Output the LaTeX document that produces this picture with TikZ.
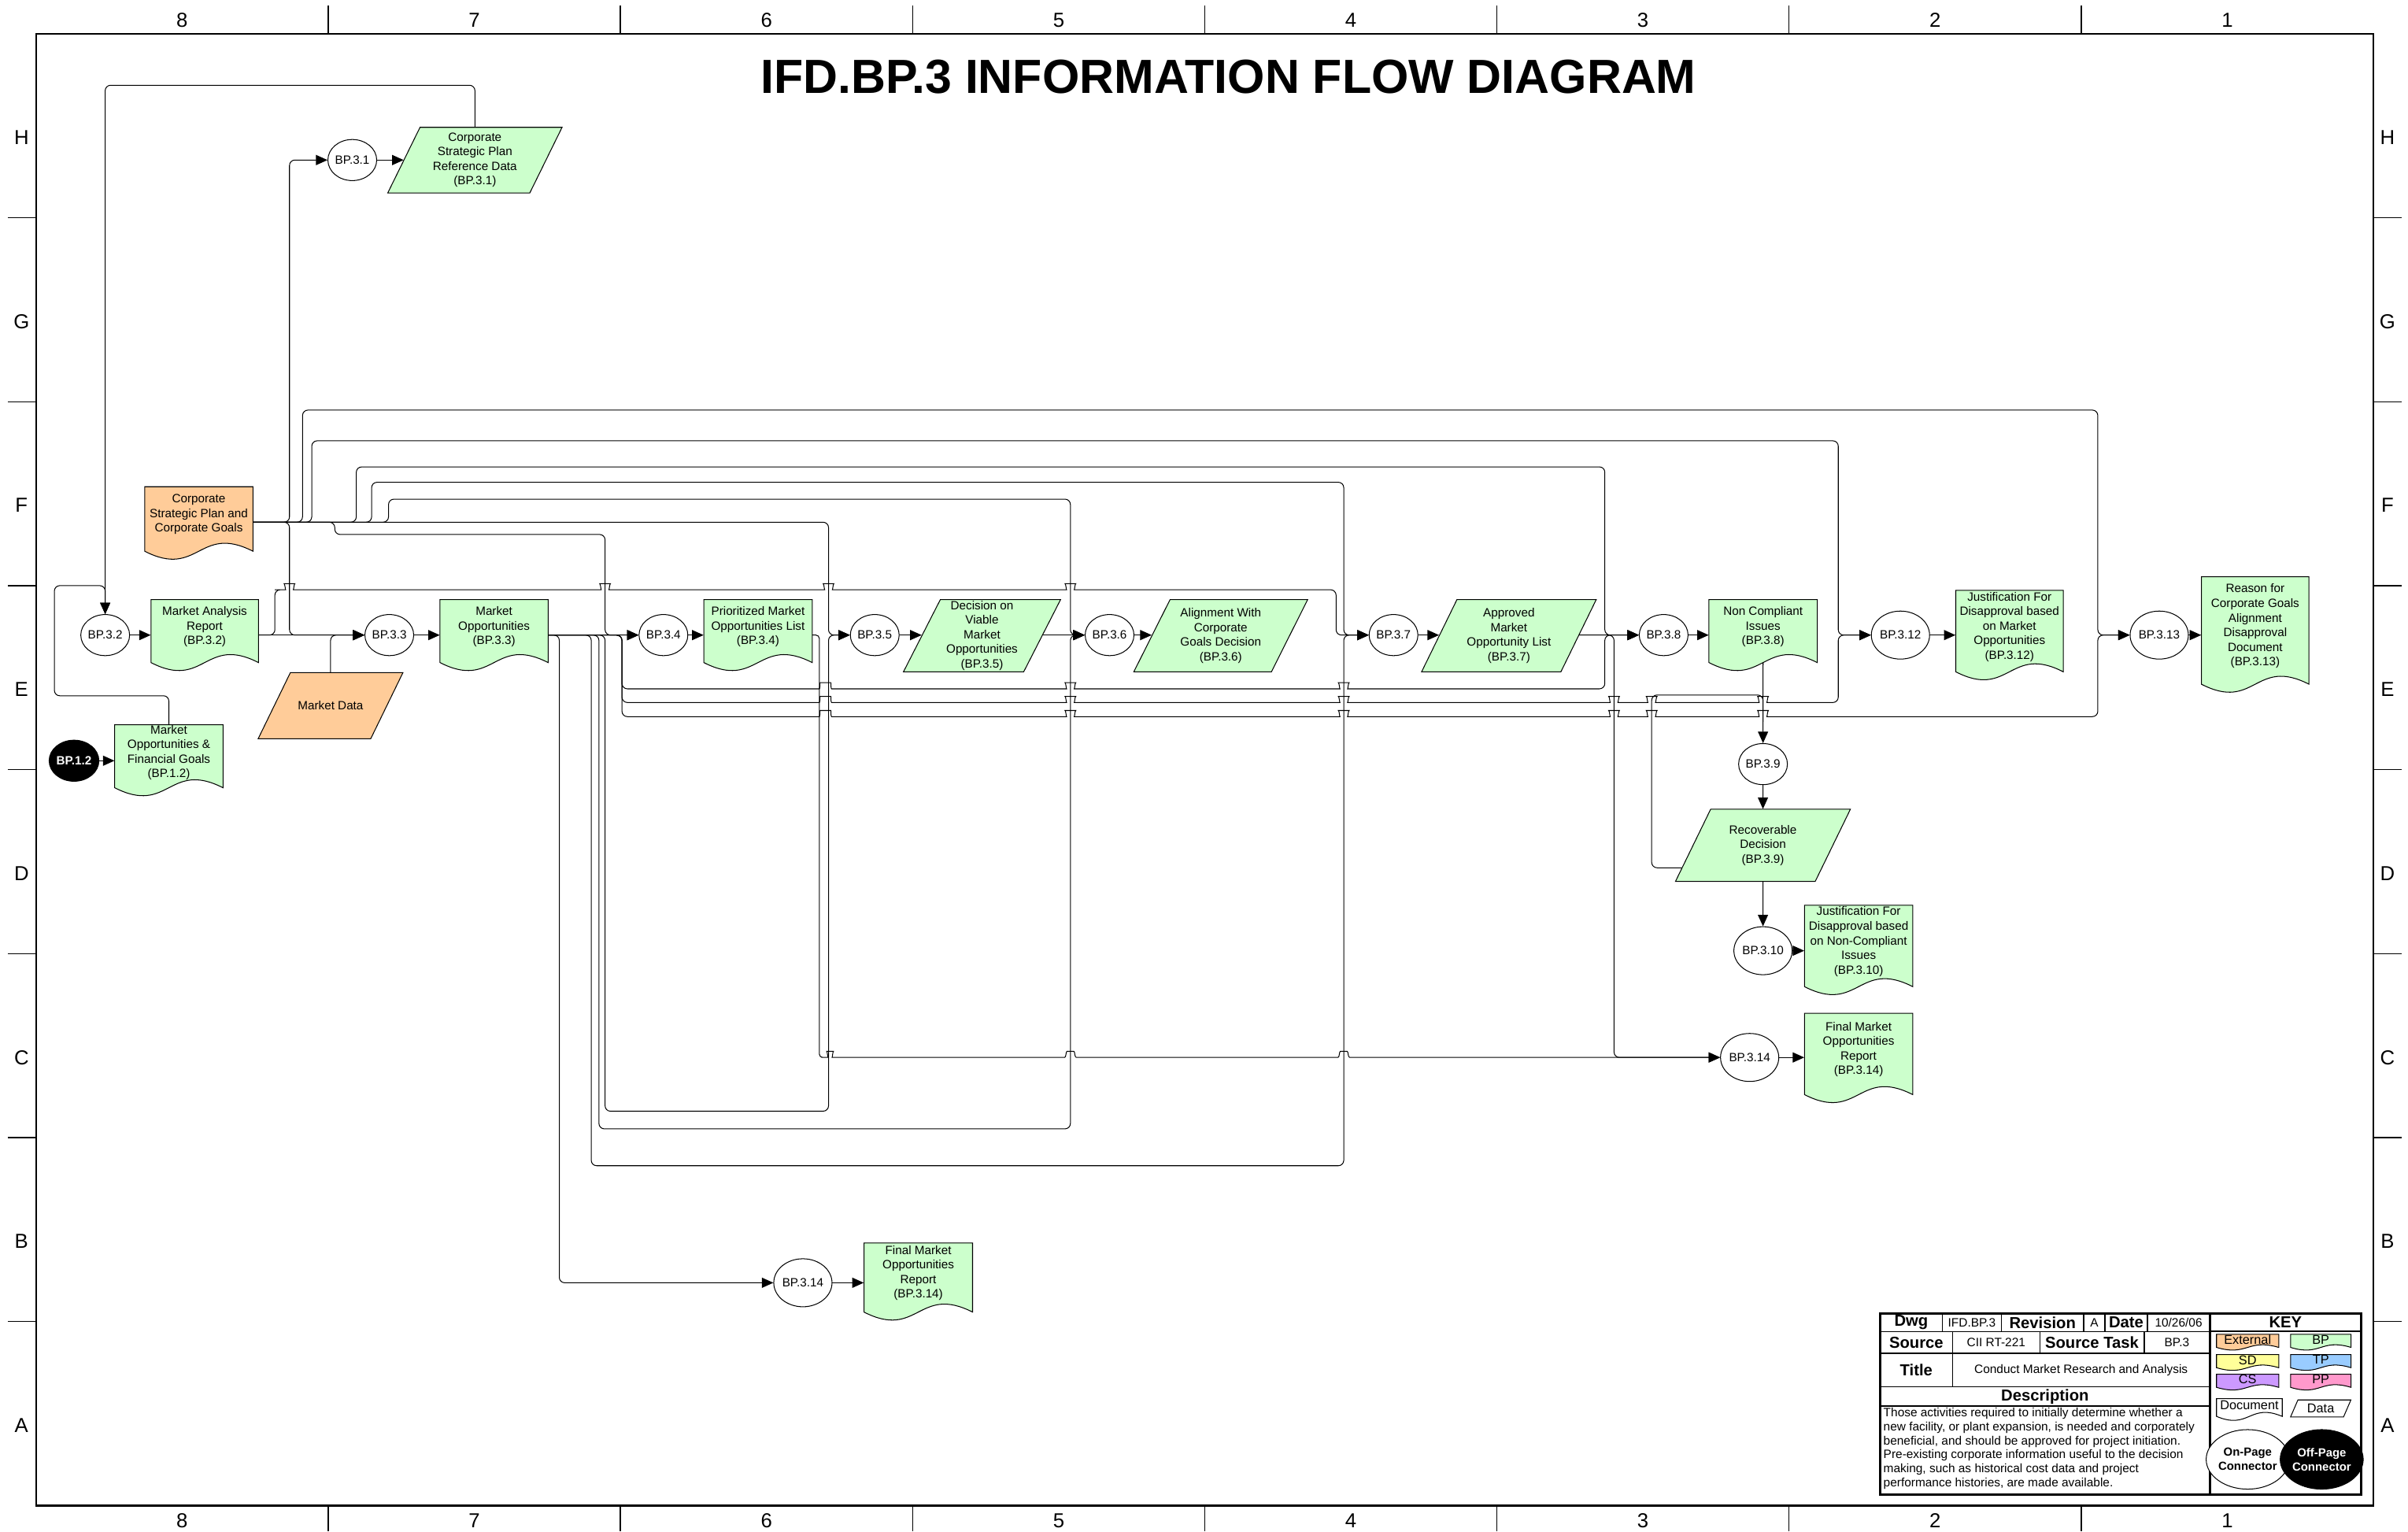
\documentclass[tikz,border=0pt]{standalone}
\usepackage{fontspec}
\setmainfont{Liberation Sans}
\usetikzlibrary{shapes.geometric,arrows.meta,backgrounds}

\definecolor{bpgreen}{HTML}{CCFFCC}
\definecolor{extorange}{HTML}{FFCC99}
\definecolor{sdyellow}{HTML}{FFFF99}
\definecolor{tpblue}{HTML}{99CCFF}
\definecolor{cspurple}{HTML}{CC99FF}
\definecolor{pppink}{HTML}{FF99CC}

\newcommand{\boxfont}{\fontsize{8.9}{10.8}\selectfont}

\tikzset{
  boxtext/.style={font=\boxfont, align=center, inner sep=0pt},
  shapeline/.style={line width=0.6pt},
  flow/.style={line width=0.6pt, rounded corners=4pt},
  flowarrow/.style={flow, -{Triangle[length=8.5pt,width=7.5pt]}},
  onpage/.style={ellipse, draw, line width=0.6pt, fill=white, inner sep=0pt,
    minimum width=1.16cm, minimum height=1.07cm, font=\boxfont},
  onpagewide/.style={onpage, minimum width=1.34cm, minimum height=1.25cm},
  offpage/.style={onpage, fill=black, text=white, font=\boxfont\bfseries},
  framelabel/.style={font=\fontsize{15}{16}\selectfont, inner sep=0pt},
  frametick/.style={line width=0.8pt},
  tblabel/.style={font=\fontsize{11.8}{13}\selectfont\bfseries, inner sep=0pt},
  tbvalue/.style={font=\fontsize{9}{10.3}\selectfont, inner sep=0pt},
  tbline/.style={line width=0.8pt},
}

% document shape: name, left, top, width, side height, fill, wave, text
\newcommand{\docnode}[8]{%
  \filldraw[shapeline, fill=#6] (#2,#3) -- ({#2+#4},#3) -- ({#2+#4},{#3+#5})
    .. controls ({#2+0.5*#4},{#3+#5-#7}) and ({#2+0.5*#4},{#3+#5+#7}) .. (#2,{#3+#5}) -- cycle;
  \node[boxtext, minimum width={#4*0.04cm}, minimum height={(#5-#7/3)*0.04cm}, anchor=north]
    (#1) at ({#2+0.5*#4},#3) {#8};}
% data shape: name, bottom left, top, width, height, slant, fill, text
\newcommand{\datanode}[8]{%
  \filldraw[shapeline, fill=#7] ({#2+#6},#3) -- ({#2+#6+#4},#3) -- ({#2+#4},{#3+#5}) -- (#2,{#3+#5}) -- cycle;
  \node[boxtext, minimum width={#4*0.04cm}, minimum height={#5*0.04cm}]
    (#1) at ({#2+0.5*#6+0.5*#4},{#3+0.5*#5}) {#8};}
% line jump over a crossing vertical line
\newcommand{\hop}[3]{-- ({#1-#3},#2) .. controls ({#1-0.45*#3},#2) and ({#1-0.5*#3},{#2-4}) .. (#1,{#2-4})
  .. controls ({#1+0.5*#3},{#2-4}) and ({#1+0.45*#3},#2) .. ({#1+#3},#2)}

\begin{document}
\begin{tikzpicture}[x=0.04cm, y=-0.04cm]
\useasboundingbox (0,0) rectangle (1568,997);

% drawing frame
\draw[line width=1.2pt] (23.5,22) rectangle (1545.4,980.3);
\draw[frametick] (213.7,3.5) -- (213.7,22);
\draw[frametick] (404.0,3.5) -- (404.0,22);
\draw[frametick] (594.2,3.5) -- (594.2,22);
\draw[frametick] (784.5,3.5) -- (784.5,22);
\draw[frametick] (974.7,3.5) -- (974.7,22);
\draw[frametick] (1164.9,3.5) -- (1164.9,22);
\draw[frametick] (1355.2,3.5) -- (1355.2,22);
\draw[frametick] (213.7,980.3) -- (213.7,997);
\draw[frametick] (404.0,980.3) -- (404.0,997);
\draw[frametick] (594.2,980.3) -- (594.2,997);
\draw[frametick] (784.5,980.3) -- (784.5,997);
\draw[frametick] (974.7,980.3) -- (974.7,997);
\draw[frametick] (1164.9,980.3) -- (1164.9,997);
\draw[frametick] (1355.2,980.3) -- (1355.2,997);
\draw[frametick] (5,141.8) -- (23.5,141.8);
\draw[frametick] (5,261.6) -- (23.5,261.6);
\draw[frametick] (5,381.4) -- (23.5,381.4);
\draw[frametick] (5,501.2) -- (23.5,501.2);
\draw[frametick] (5,621.0) -- (23.5,621.0);
\draw[frametick] (5,740.7) -- (23.5,740.7);
\draw[frametick] (5,860.5) -- (23.5,860.5);
\draw[frametick] (1545.4,141.8) -- (1564,141.8);
\draw[frametick] (1545.4,261.6) -- (1564,261.6);
\draw[frametick] (1545.4,381.4) -- (1564,381.4);
\draw[frametick] (1545.4,501.2) -- (1564,501.2);
\draw[frametick] (1545.4,621.0) -- (1564,621.0);
\draw[frametick] (1545.4,740.7) -- (1564,740.7);
\draw[frametick] (1545.4,860.5) -- (1564,860.5);
\node[framelabel] (top8) at (118.6,13) {8};
\node[framelabel] (top7) at (308.9,13) {7};
\node[framelabel] (top6) at (499.1,13) {6};
\node[framelabel] (top5) at (689.4,13) {5};
\node[framelabel] (top4) at (879.6,13) {4};
\node[framelabel] (top3) at (1069.8,13) {3};
\node[framelabel] (top2) at (1260.1,13) {2};
\node[framelabel] (top1) at (1450.3,13) {1};
\node[framelabel] (bot8) at (118.6,990) {8};
\node[framelabel] (bot7) at (308.9,990) {7};
\node[framelabel] (bot6) at (499.1,990) {6};
\node[framelabel] (bot5) at (689.4,990) {5};
\node[framelabel] (bot4) at (879.6,990) {4};
\node[framelabel] (bot3) at (1069.8,990) {3};
\node[framelabel] (bot2) at (1260.1,990) {2};
\node[framelabel] (bot1) at (1450.3,990) {1};
\node[framelabel] (leftH) at (14,89.5) {H};
\node[framelabel] (leftG) at (14,209.3) {G};
\node[framelabel] (leftF) at (14,329.1) {F};
\node[framelabel] (leftE) at (14,448.9) {E};
\node[framelabel] (leftD) at (14,568.7) {D};
\node[framelabel] (leftC) at (14,688.5) {C};
\node[framelabel] (leftB) at (14,808.3) {B};
\node[framelabel] (leftA) at (14,928.1) {A};
\node[framelabel] (rightH) at (1554.6,89.5) {H};
\node[framelabel] (rightG) at (1554.6,209.3) {G};
\node[framelabel] (rightF) at (1554.6,329.1) {F};
\node[framelabel] (rightE) at (1554.6,448.9) {E};
\node[framelabel] (rightD) at (1554.6,568.7) {D};
\node[framelabel] (rightC) at (1554.6,688.5) {C};
\node[framelabel] (rightB) at (1554.6,808.3) {B};
\node[framelabel] (rightA) at (1554.6,928.1) {A};

\node[font=\fontsize{35.5}{38}\selectfont\bfseries, inner sep=0pt] (title) at (800,50) {IFD.BP.3 INFORMATION FLOW DIAGRAM};

% external inputs
\docnode{ocsp}{94.2}{316.9}{70.5}{42}{extorange}{18}{Corporate\\Strategic Plan and\\Corporate Goals}
\datanode{amd}{168.1}{437.9}{73.3}{43.1}{21}{extorange}{Market Data}

% BP.3 flow
\node[onpage] (c31) at (229.4,104.2) {BP.3.1};
\datanode{a31}{252.5}{82.9}{92.5}{42.7}{21}{bpgreen}{Corporate\\Strategic Plan\\Reference Data\\(BP.3.1)}
\node[offpage] (p12) at (48.2,495.3) {BP.1.2};
\docnode{d12}{74.7}{471.9}{70.5}{41}{bpgreen}{18}{Market\\Opportunities \&\\Financial Goals\\(BP.1.2)}
\node[onpage] (c32) at (68.5,413.5) {BP.3.2};
\docnode{d32}{98.3}{390.4}{70}{41}{bpgreen}{18}{Market Analysis\\Report\\(BP.3.2)}
\node[onpage] (c33) at (253.5,413.5) {BP.3.3};
\docnode{d33}{286.5}{390.4}{70.4}{41}{bpgreen}{18}{Market\\Opportunities\\(BP.3.3)}
\node[onpage] (c34) at (432,413.5) {BP.3.4};
\docnode{d34}{458.3}{390.4}{70.6}{41}{bpgreen}{18}{Prioritized Market\\Opportunities List\\(BP.3.4)}
\node[onpage] (c35) at (569.6,413.5) {BP.3.5};
\datanode{a35}{588.3}{390.4}{78.3}{47}{24}{bpgreen}{Decision on\\Viable\\Market\\Opportunities\\(BP.3.5)}
\node[onpage] (c36) at (722.5,413.5) {BP.3.6};
\datanode{a36}{738.3}{390.4}{89.6}{47}{23.6}{bpgreen}{Alignment With\\Corporate\\Goals Decision\\(BP.3.6)}
\node[onpage] (c37) at (907.4,413.5) {BP.3.7};
\datanode{a37}{925.7}{390.4}{90.7}{47}{23}{bpgreen}{Approved\\Market\\Opportunity List\\(BP.3.7)}
\node[onpage] (c38) at (1083.3,413.5) {BP.3.8};
\docnode{d38}{1112.8}{390.4}{70.5}{41}{bpgreen}{18}{Non Compliant\\Issues\\(BP.3.8)}
\node[onpage] (c39) at (1148,497.5) {BP.3.9};
\datanode{a39}{1091}{526.9}{91}{47}{22.9}{bpgreen}{Recoverable\\Decision\\(BP.3.9)}
\node[onpagewide] (c310) at (1148,619) {BP.3.10};
\docnode{d310}{1175}{589.4}{70.5}{53}{bpgreen}{18}{Justification For\\Disapproval based\\on Non-Compliant\\Issues\\(BP.3.10)}
\node[onpagewide] (c312) at (1237.5,413.5) {BP.3.12};
\docnode{d312}{1273.5}{384.4}{70}{53}{bpgreen}{18}{Justification For\\Disapproval based\\on Market\\Opportunities\\(BP.3.12)}
\node[onpagewide] (c313) at (1406,413.5) {BP.3.13};
\docnode{d313}{1433.5}{375.5}{70}{70}{bpgreen}{18}{Reason for\\Corporate Goals\\Alignment\\Disapproval\\Document\\(BP.3.13)}
\node[onpagewide] (c314a) at (1139.3,688.5) {BP.3.14};
\docnode{d314a}{1175}{659.7}{70.5}{53}{bpgreen}{18}{Final Market\\Opportunities\\Report\\(BP.3.14)}
\node[onpagewide] (c314b) at (522.8,835.2) {BP.3.14};
\docnode{d314b}{562.6}{809.3}{70.7}{45}{bpgreen}{18}{Final Market\\Opportunities\\Report\\(BP.3.14)}

\begin{scope}[on background layer]
% feedback into BP.3.2
\draw[flowarrow] (a31.north) |- (68.5,55.5) -- (c32);
\draw[flowarrow] (d12.north) |- (35.4,453) |- (68.5,381.3) -- (c32);
\draw[flowarrow] (p12) -- (p12 -| d12.west);
\draw[flowarrow] (c32) -- (c32 -| d32.west);
\draw[flowarrow] (d32.east |- c33) -- (c33);
\draw[flowarrow] (d32.east |- c33) -| (179,384) \hop{188.5}{384}{6} \hop{394}{384}{6} \hop{539.5}{384}{6} \hop{697}{384}{6} -| (870,413.5) -- (c37);
% corporate strategic plan and goals
\draw[flowarrow] (ocsp.east |- 0,340) -| (188.5,104.2) -- (c31);
\draw[flowarrow] (ocsp.east |- 0,340) -| (188.5,413.5) -- (c33);
\draw[flowarrow] (ocsp.east |- 0,340) -| (197,267) -| (1366,413.5) -- (c313);
\draw[flowarrow] (ocsp.east |- 0,340) -| (203,287) -| (1197,413.5) -- (c312);
\draw[flowarrow] (ocsp.east |- 0,340) -- (218,340) |- (394,348) |- (c34);
\draw[flowarrow] (ocsp.east |- 0,340) -| (232,304) -| (1045,413.5) -- (c38);
\draw[flowarrow] (ocsp.east |- 0,340) -| (242,314) -| (875,413.5) -- (c37);
\draw[flowarrow] (ocsp.east |- 0,340) -| (253,325) -| (697,413.5) -- (c36);
\draw[flowarrow] (ocsp.east |- 0,340) -| (539.5,413.5) -- (c35);
\draw[flowarrow] (amd.north) |- (c33);
% market opportunities
\draw[flowarrow] (c33) -- (c33 -| d33.west);
\draw[flowarrow] (d33.east |- c34) -- (c34);
\draw[flowarrow] (d33.east |- c34) -| (364.2,835.2) -- (c314b);
\draw[flowarrow] (d33.east |- c34) -| (385,759) -| (875,413.5) -- (c37);
\draw[flowarrow] (d33.east |- c34) -| (390,735) -| (697,413.5) -- (c36);
\draw[flowarrow] (d33.east |- c34) -| (394,723.5) -| (539.5,413.5) -- (c35);
\draw[flowarrow] (d33.east |- c34) -| (405,448.5) \hop{537.5}{448.5}{7.5} \hop{697}{448.5}{6} \hop{875}{448.5}{6} -| (1045,413.5) -- (c38);
\draw[flowarrow] (d33.east |- c34) -| (405,457.4) \hop{537.5}{457.4}{7.5} \hop{697}{457.4}{6} \hop{875}{457.4}{6} \hop{1051}{457.4}{6} \hop{1075.5}{457.4}{6} \hop{1148}{457.4}{6} -| (1197,413.5) -- (c312);
\draw[flowarrow] (d33.east |- c34) -| (405,466.6) \hop{537.5}{466.6}{7.5} \hop{697}{466.6}{6} \hop{875}{466.6}{6} \hop{1051}{466.6}{6} \hop{1075.5}{466.6}{6} \hop{1148}{466.6}{6} -| (1366,413.5) -- (c313);
% main chain
\draw[flowarrow] (c34) -- (c34 -| d34.west);
\draw[flowarrow, rounded corners=2.5pt] (d34.east |- c34) -| (533.5,688.5) \hop{540.5}{688.5}{3.5} \hop{697}{688.5}{6} \hop{875}{688.5}{6} -- (c314a);
\draw[flowarrow] (c35) -- (c35 -| a35.west);
\draw[flowarrow] (a35.east |- c36) -- (c36);
\draw[flowarrow] (c36) -- (c36 -| a36.west);
\draw[flowarrow] (c37) -- (c37 -| a37.west);
\draw[flowarrow] (a37.east |- c38) -- (c38);
\draw[flowarrow] (a37.east |- c38) -| (1051,688.5) -- (c314a);
\draw[flowarrow] (c38) -- (c38 -| d38.west);
\draw[flowarrow] (d38.south) -- (c39);
\draw[flowarrow] (c39) -- (a39.north);
\draw[flow] (a39.west |- 0,565) -| (1075.5,452.5) -| (1148,470);
\draw[flowarrow] (a39.south) -- (c310);
\draw[flowarrow] (c310) -- (c310 -| d310.west);
\draw[flowarrow] (c312) -- (c312 -| d312.west);
\draw[flowarrow] (c313) -- (c313 -| d313.west);
\draw[flowarrow] (c314a) -- (c314a -| d314a.west);
\draw[flowarrow] (c314b) -- (c314b -| d314b.west);
\draw[flowarrow] (c31) -- (c31 -| a31.west);
\end{scope}

% title block
\draw[line width=1.6pt, fill=white] (1224.3,855.1) rectangle (1537.5,973.1);
\draw[line width=1.6pt] (1438.9,855.1) -- (1438.9,973.1);
\draw[tbline] (1224.3,867.1) -- (1438.9,867.1);
\draw[tbline] (1224.3,881.1) -- (1438.9,881.1);
\draw[tbline] (1224.3,903.0) -- (1438.9,903.0);
\draw[tbline] (1224.3,915.5) -- (1438.9,915.5);
\draw[tbline] (1438.9,866.8) -- (1537.5,866.8);
\draw[tbline] (1264.8,855.1) -- (1264.8,867.1);
\draw[tbline] (1303.1,855.1) -- (1303.1,867.1);
\draw[tbline] (1356.8,855.1) -- (1356.8,867.1);
\draw[tbline] (1370.6,855.1) -- (1370.6,867.1);
\draw[tbline] (1398.4,855.1) -- (1398.4,867.1);
\draw[tbline] (1271.4,867.1) -- (1271.4,903.0);
\draw[tbline] (1328.3,867.1) -- (1328.3,881.1);
\draw[tbline] (1396.2,867.1) -- (1396.2,881.1);
\node[tblabel] (tbDwg) at (1244.5,861.1) {Dwg};
\node[tbvalue] (tbDwgVal) at (1284,861.1) {IFD.BP.3};
\node[tblabel] (tbRev) at (1330,861.1) {Revision};
\node[tbvalue] (tbRevVal) at (1363.7,861.1) {A};
\node[tblabel] (tbDate) at (1384.5,861.1) {Date};
\node[tbvalue] (tbDateVal) at (1418.6,861.1) {10/26/06};
\node[tblabel] (tbSrc) at (1247.8,874.1) {Source};
\node[tbvalue] (tbSrcVal) at (1299.8,874.1) {CII RT-221};
\node[tblabel] (tbTask) at (1362.2,874.1) {Source Task};
\node[tbvalue] (tbTaskVal) at (1417.5,874.1) {BP.3};
\node[tblabel] (tbTitle) at (1247.8,892) {Title};
\node[tbvalue] (tbTitleVal) at (1355.1,892) {Conduct Market Research and Analysis};
\node[tblabel] (tbDescHead) at (1331.6,909.2) {Description};
\node[tbvalue, anchor=north west, align=left] (tbDesc) at (1226.3,916.6) {Those activities required to initially determine whether a\\new facility, or plant expansion, is needed and corporately\\beneficial, and should be approved for project initiation.\\Pre-existing corporate information useful to the decision\\making, such as historical cost data and project\\performance histories, are made available.};

% key
\node[tblabel] (keyHead) at (1488.2,861.1) {KEY};
\docnode{keyExt}{1443.3}{868.8}{40.5}{8.5}{extorange}{6}{\fontsize{9.5}{10}\selectfont External}
\docnode{keyBP}{1491.5}{868.8}{39.4}{8.5}{bpgreen}{6}{\fontsize{9.5}{10}\selectfont BP}
\docnode{keySD}{1443.3}{882}{40.5}{8.5}{sdyellow}{6}{\fontsize{9.5}{10}\selectfont SD}
\docnode{keyTP}{1491.5}{882}{39.4}{8.5}{tpblue}{6}{\fontsize{9.5}{10}\selectfont TP}
\docnode{keyCS}{1443.3}{894.8}{40.5}{8.5}{cspurple}{6}{\fontsize{9.5}{10}\selectfont CS}
\docnode{keyPP}{1491.5}{894.8}{39.4}{8.5}{pppink}{6}{\fontsize{9.5}{10}\selectfont PP}
\docnode{keyDoc}{1443.3}{910.7}{42.8}{11.5}{white}{9}{\fontsize{9.5}{10}\selectfont Document}
\datanode{keyData}{1491.5}{911.5}{34.5}{11.1}{4.8}{white}{\fontsize{9.5}{10}\selectfont Data}
\node[ellipse, draw, line width=0.6pt, fill=white, inner sep=0pt, minimum width=1.71cm, minimum height=1.55cm,
  align=center, font=\fontsize{8.7}{10.5}\selectfont\bfseries] (keyOn) at (1463.6,950.2) {On-Page\\Connector};
\node[ellipse, draw, line width=0.6pt, fill=black, text=white, inner sep=0pt, minimum width=1.88cm, minimum height=1.55cm,
  align=center, font=\fontsize{8.7}{10.5}\selectfont\bfseries] (keyOff) at (1511.8,950.2) {Off-Page\\Connector};
\end{tikzpicture}
\end{document}
